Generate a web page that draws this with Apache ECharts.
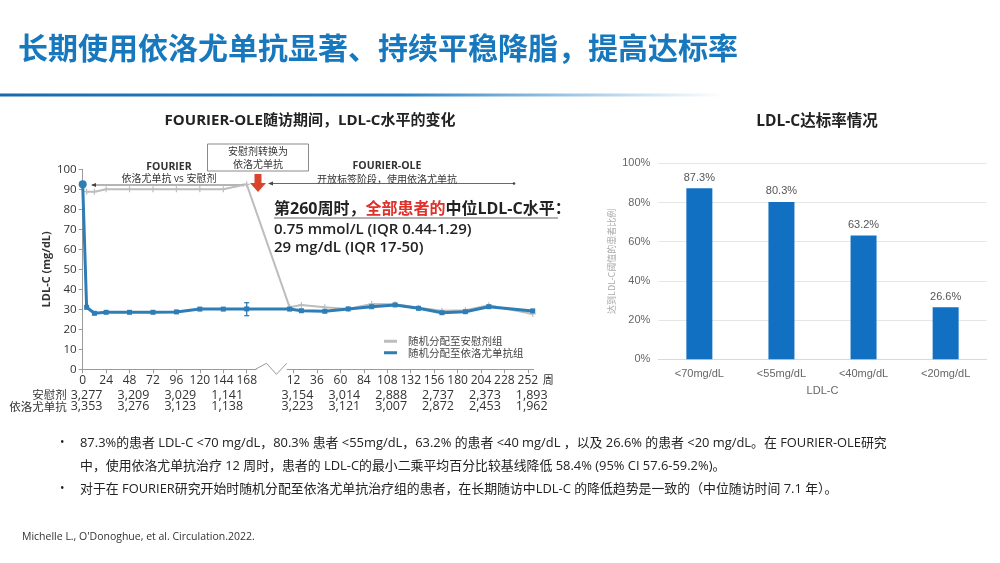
<!DOCTYPE html>
<html><head><meta charset="utf-8">
<script src="https://cdn.jsdelivr.net/npm/echarts@6/dist/echarts.min.js"></script>
<style>html,body{margin:0;padding:0;background:#fff}#c{width:1000px;height:563px}</style>
</head><body><div id="c"></div>
<script>
// ---------- DATA ----------
// FOURIER phase (study weeks)
const fourierWeeksEvo = [0, 4, 12, 24, 48, 72, 96, 120, 144, 168];
const fourierEvo      = [92.5, 31, 28, 28.5, 28.5, 28.5, 28.7, 30.1, 30.1, 30.2];
const fourierWeeksPbo = [4, 12, 24, 48, 72, 96, 120, 144, 168];
const fourierPbo      = [88.8, 88.8, 90, 90, 90, 90, 90, 90, 92.5];
// FOURIER-OLE phase (OLE weeks)
const oleWeeks = [8, 20, 44, 68, 92, 116, 140, 164, 188, 212, 257];
const oleEvo   = [30.1, 29.3, 29, 30.2, 31.3, 32.2, 30.5, 28.3, 28.8, 31.3, 29.2];
const olePbo   = [31, 32.2, 31, 30.2, 32.6, 32.5, 30.8, 29.3, 29.5, 32, 27.7];
// error bar at week 168 (evolocumab)
const errWeek = [168];
const errLow  = [26.8];
const errHigh = [33.3];
// x tick labels
const fourierTicks = [0, 24, 48, 72, 96, 120, 144, 168];
const oleTicks     = [12, 36, 60, 84, 108, 132, 156, 180, 204, 228, 252];
// numbers at risk
const nFourierWeeks = [0, 48, 96, 144];
const nOleWeeks     = [12, 60, 108, 156, 204, 252];
const placeboN = [3277, 3209, 3029, 1141, 3154, 3014, 2888, 2737, 2373, 1893];
const evoN     = [3353, 3276, 3123, 1138, 3223, 3121, 3007, 2872, 2453, 1962];
// right chart
const goalCats  = ['<70mg/dL', '<55mg/dL', '<40mg/dL', '<20mg/dL'];
const goalRates = [87.3, 80.3, 63.2, 26.6];

// ---------- BUILD ----------
const OFF = 204; // axis position where OLE week 0 sits (after the break)
const XMAX = 462;
const NSHIFT = 4; // number-at-risk labels sit slightly right of their ticks
const F = '"Open Sans","Noto Sans CJK SC",sans-serif';
const FC = '"Noto Sans CJK SC",sans-serif';
const FA = '"Liberation Sans",Arial,sans-serif';

const evoData = fourierWeeksEvo.map((w, i) => [w, fourierEvo[i]])
  .concat(oleWeeks.map((w, i) => [OFF + w, oleEvo[i]]));
const pboData = fourierWeeksPbo.map((w, i) => [w, fourierPbo[i]])
  .concat(oleWeeks.map((w, i) => [OFF + w, olePbo[i]]));
const tickVals = fourierTicks.concat(oleTicks.map(w => OFF + w));
const nVals = nFourierWeeks.concat(nOleWeeks.map(w => OFF + w));
const tickName = v => v <= 168 ? String(v) : String(Math.round(v - OFF));
const fmtN = n => n.toLocaleString('en-US');

const G0 = {left: 82.7, top: 169.3, width: 451, height: 200};
const G1 = {left: 658.3, top: 163.3, width: 328.4, height: 196};

const chart = echarts.init(document.getElementById('c'));

function rowAxis(name, arr, off) {
  return {
    type: 'value', gridIndex: 0, min: -NSHIFT, max: XMAX - NSHIFT, position: 'bottom', offset: off,
    axisLine: {show: false}, axisTick: {show: false}, splitLine: {show: false},
    axisLabel: {customValues: nVals, margin: 3, fontSize: 12.5, color: '#333', fontFamily: F,
      formatter: v => { const i = nVals.indexOf(Math.round(v)); return i < 0 ? '' : fmtN(arr[i]); }},
    name: name, nameLocation: 'start', nameGap: 13,
    nameTextStyle: {fontSize: 11.5, color: '#333', fontFamily: FC, verticalAlign: 'top', padding: [3, 0, 0, 0]}
  };
}

const plusSym = 'path://M2,0H3V2H5V3H3V5H2V3H0V2H2Z';

const option = {
  animation: false,
  backgroundColor: '#fff',
  grid: [
    Object.assign({}, G0),
    Object.assign({}, G1)
  ],
  legend: {
    data: [{name: '随机分配至安慰剂组', icon: 'rect'}, {name: '随机分配至依洛尤单抗组', icon: 'rect'}],
    orient: 'vertical', left: 384, top: 336, itemWidth: 13, itemHeight: 3, itemGap: 1, padding: 0,
    textStyle: {fontSize: 10.5, color: '#444', fontFamily: FC, padding: [0, 0, 0, 6]}
  },
  xAxis: [
    {
      type: 'value', gridIndex: 0, min: 0, max: XMAX,
      axisLine: {show: true, lineStyle: {color: '#9a9a9a', width: 1}},
      axisTick: {show: true, customValues: tickVals, length: 4, lineStyle: {color: '#9a9a9a'}},
      axisLabel: {customValues: tickVals, formatter: tickName, margin: 5, fontSize: 12, color: '#333', fontFamily: F},
      splitLine: {show: false},
      name: '周', nameLocation: 'end', nameGap: 9,
      nameTextStyle: {fontSize: 11, color: '#333', fontFamily: FC, verticalAlign: 'top', padding: [5, 0, 0, 0]}
    },
    rowAxis('安慰剂', placeboN, 16.7),
    rowAxis('依洛尤单抗', evoN, 28.2),
    {
      type: 'category', gridIndex: 1, data: goalCats,
      axisLine: {lineStyle: {color: '#d9d9d9'}}, axisTick: {show: false},
      axisLabel: {color: '#666', fontSize: 11, fontFamily: FA, margin: 9},
      name: 'LDL-C', nameLocation: 'middle', nameGap: 26,
      nameTextStyle: {color: '#666', fontSize: 11, fontFamily: FA}
    }
  ],
  yAxis: [
    {
      type: 'value', gridIndex: 0, min: 0, max: 100, interval: 10,
      axisLine: {show: true, lineStyle: {color: '#9a9a9a'}},
      axisTick: {show: true, length: 4, lineStyle: {color: '#9a9a9a'}},
      axisLabel: {fontSize: 11.5, color: '#333', fontFamily: F, margin: 6},
      splitLine: {show: false},
      name: 'LDL-C (mg/dL)', nameLocation: 'middle', nameGap: 30, nameRotate: 90,
      nameTextStyle: {fontSize: 11, color: '#333', fontWeight: 'bold', fontFamily: F}
    },
    {
      type: 'value', gridIndex: 1, min: 0, max: 100, interval: 20,
      axisLine: {show: false}, axisTick: {show: false},
      axisLabel: {formatter: '{value}%', color: '#666', fontSize: 11, fontFamily: FA, margin: 8},
      splitLine: {lineStyle: {color: '#e6e6e6'}},
      name: '达到LDL-C阈值的患者比例', nameLocation: 'middle', nameGap: 42, nameRotate: 90,
      nameTextStyle: {color: '#aaa', fontSize: 9, fontFamily: FC}
    }
  ],
  series: [
    {
      name: '随机分配至安慰剂组', type: 'line', xAxisIndex: 0, yAxisIndex: 0, data: pboData,
      color: '#BDBDBD', lineStyle: {color: '#BDBDBD', width: 2},
      symbol: plusSym, symbolSize: 6, itemStyle: {color: '#BDBDBD'}, z: 2, clip: false
    },
    {
      name: '随机分配至依洛尤单抗组', type: 'line', xAxisIndex: 0, yAxisIndex: 0, data: evoData,
      color: '#2E7DB5', lineStyle: {color: '#2E7DB5', width: 3},
      symbol: (v, p) => p.dataIndex === 0 ? 'circle' : 'rect',
      symbolSize: (v, p) => p.dataIndex === 0 ? 8 : 5,
      itemStyle: {color: '#2E7DB5'}, z: 3, clip: false
    },
    {
      type: 'custom', xAxisIndex: 0, yAxisIndex: 0,
      data: errWeek.map((w, i) => [w, errLow[i], errHigh[i]]),
      renderItem: (params, api) => {
        const lo = api.coord([api.value(0), api.value(1)]);
        const hi = api.coord([api.value(0), api.value(2)]);
        const st = {stroke: '#2E7DB5', lineWidth: 1.3};
        return {type: 'group', children: [
          {type: 'line', shape: {x1: lo[0], y1: lo[1], x2: hi[0], y2: hi[1]}, style: st},
          {type: 'line', shape: {x1: lo[0] - 2.5, y1: lo[1], x2: lo[0] + 2.5, y2: lo[1]}, style: st},
          {type: 'line', shape: {x1: hi[0] - 2.5, y1: hi[1], x2: hi[0] + 2.5, y2: hi[1]}, style: st}
        ]};
      }, z: 4
    },
    {
      type: 'bar', xAxisIndex: 3, yAxisIndex: 1, data: goalRates, barWidth: 26,
      itemStyle: {color: '#1270C2'},
      label: {show: true, position: 'top', distance: 5, formatter: '{c}%', color: '#555', fontSize: 11, fontFamily: FA}
    }
  ]
};
chart.setOption(option);

// ---------- DECORATIONS / TEXT ----------
const pA = chart.convertToPixel({xAxisIndex: 0, yAxisIndex: 0}, [178, 0]);
const pB = chart.convertToPixel({xAxisIndex: 0, yAxisIndex: 0}, [209, 0]);
const ax = pA[1];
const txt = (x, y, text, font, fill, align) => ({
  type: 'text', x: x, y: y, silent: true,
  style: {text: text, font: font, fill: fill || '#222', align: align || 'left', verticalAlign: 'middle'}
});

const graphics = [
  {type: 'rect', shape: {x: 0, y: 93.5, width: 725, height: 3}, silent: true,
    style: {fill: new echarts.graphic.LinearGradient(0, 0, 1, 0, [
      {offset: 0, color: '#1a6aab'}, {offset: 0.55, color: '#2b82c4'}, {offset: 1, color: 'rgba(60,140,200,0)'}])}},
  txt(18, 48, '长期使用依洛尤单抗显著、持续平稳降脂，提高达标率', 'bold 30px ' + FC, '#1778BD'),
  txt(310, 121, 'FOURIER-OLE随访期间，LDL-C水平的变化', 'bold 15px ' + F, '#222', 'center'),
  txt(817, 122, 'LDL-C达标率情况', 'bold 15.5px ' + F, '#222', 'center'),
  // switch box
  {type: 'rect', shape: {x: 207.5, y: 144, width: 101, height: 27}, silent: true,
    style: {fill: 'none', stroke: '#8a8a8a', lineWidth: 1}},
  txt(258, 151.5, '安慰剂转换为', '10px ' + FC, '#333', 'center'),
  txt(258, 164, '依洛尤单抗', '10px ' + FC, '#333', 'center'),
  {type: 'polygon', silent: true, shape: {points: [[254.5, 174], [261.5, 174], [261.5, 183], [266, 183], [258, 192], [250, 183], [254.5, 183]]},
    style: {fill: '#D9442A'}},
  // FOURIER phase label
  txt(169, 167, 'FOURIER', 'bold 10.5px ' + F, '#333', 'center'),
  txt(169, 179.5, '依洛尤单抗 vs 安慰剂', '10px ' + F, '#333', 'center'),
  {type: 'line', silent: true, shape: {x1: 92, y1: 185, x2: 243, y2: 185}, style: {stroke: '#444', lineWidth: 0.8}},
  {type: 'polygon', silent: true, shape: {points: [[91, 185], [96, 183], [96, 187]]}, style: {fill: '#444'}},
  {type: 'circle', silent: true, shape: {cx: 243, cy: 185, r: 1.3}, style: {fill: '#444'}},
  // OLE phase label
  txt(387, 166, 'FOURIER-OLE', 'bold 10.5px ' + F, '#333', 'center'),
  txt(387, 179, '开放标签阶段，使用依洛尤单抗', '10px ' + FC, '#333', 'center'),
  {type: 'line', silent: true, shape: {x1: 269, y1: 183.5, x2: 514, y2: 183.5}, style: {stroke: '#444', lineWidth: 0.8}},
  {type: 'polygon', silent: true, shape: {points: [[268, 183.5], [273, 181.5], [273, 185.5]]}, style: {fill: '#444'}},
  {type: 'circle', silent: true, shape: {cx: 514, cy: 183.5, r: 1.3}, style: {fill: '#444'}},
  // week 260 annotation
  {type: 'text', x: 274, y: 209.5, silent: true, style: {
    text: '{a|第260周时，}{r|全部患者的}{a|中位LDL-C水平：}', verticalAlign: 'middle', align: 'left',
    rich: {a: {font: 'bold 16px ' + F, fill: '#222'}, r: {font: 'bold 16px ' + F, fill: '#E0302A'}}}},
  {type: 'line', silent: true, shape: {x1: 274, y1: 218, x2: 558, y2: 218}, style: {stroke: '#666', lineWidth: 1}},
  txt(274, 230, '0.75 mmol/L (IQR 0.44-1.29)', '600 15px ' + F, '#222'),
  txt(274, 248, '29 mg/dL (IQR 17-50)', '600 15px ' + F, '#222'),
  // axis break zigzag
  {type: 'rect', silent: true, shape: {x: pA[0], y: ax - 3, width: pB[0] - pA[0], height: 6}, style: {fill: '#fff'}, z: 50},
  {type: 'polyline', silent: true, shape: {points: [[pA[0] - 1, ax], [pA[0] + 10, ax - 6], [pA[0] + 20, ax + 5], [pB[0], ax - 6]]},
    style: {stroke: '#9a9a9a', lineWidth: 1, fill: 'none'}, z: 51},
  // bullets
  txt(60, 443, '•', '12px ' + F, '#222'),
  txt(80, 443, '87.3%的患者 LDL-C <70 mg/dL，80.3% 患者 <55mg/dL，63.2% 的患者 <40 mg/dL ，以及 26.6% 的患者 <20 mg/dL。在 FOURIER-OLE研究', '12.9px ' + F, '#222'),
  txt(80, 466, '中，使用依洛尤单抗治疗 12 周时，患者的 LDL-C的最小二乘平均百分比较基线降低 58.4% (95% CI 57.6-59.2%)。', '12.9px ' + F, '#222'),
  txt(60, 489, '•', '12px ' + F, '#222'),
  txt(80, 489, '对于在 FOURIER研究开始时随机分配至依洛尤单抗治疗组的患者，在长期随访中LDL-C 的降低趋势是一致的（中位随访时间 7.1 年）。', '12.9px ' + F, '#222'),
  txt(22, 537, "Michelle L., O'Donoghue, et al. Circulation.2022.", '10.5px ' + F, '#333')
];
chart.setOption({graphic: graphics});
</script>
</body></html>
